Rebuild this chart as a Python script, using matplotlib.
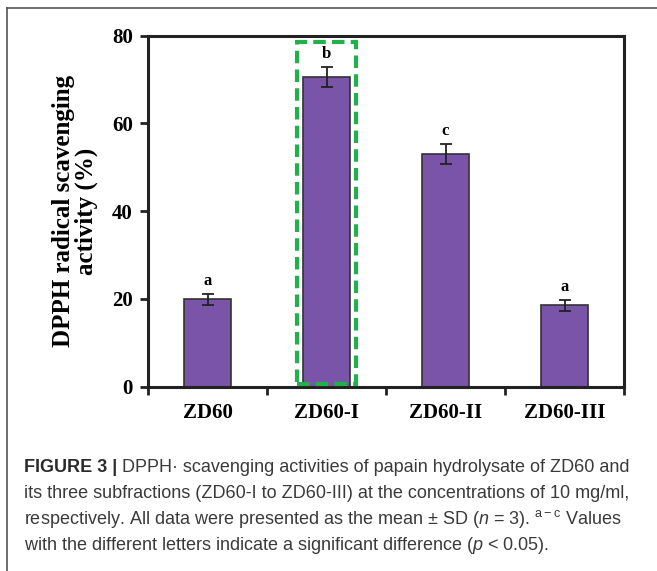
import matplotlib
matplotlib.use("Agg")
import matplotlib.pyplot as plt
from matplotlib.patches import Rectangle
from matplotlib.lines import Line2D

# data
samples = ["ZD60", "ZD60-I", "ZD60-II", "ZD60-III"]
activity = [19.9, 70.6, 53.0, 18.5]
sd = [1.2, 2.3, 2.2, 1.3]
letters = ["a", "b", "c", "a"]
yticks = [0, 20, 40, 60, 80]

plt.rcParams["mathtext.fontset"] = "custom"
plt.rcParams["mathtext.rm"] = "Liberation Sans"
plt.rcParams["mathtext.it"] = "Liberation Sans:italic"

fig = plt.figure(figsize=(6.57, 5.71), dpi=100)
ax = fig.add_axes([0.2253, 0.3228, 0.7245, 0.6149])

serif = "Liberation Serif"
x = range(len(samples))
ax.bar(x, activity, width=0.4, color="#7a54a9", edgecolor="#333333", linewidth=1.2, zorder=2)
ax.errorbar(x, activity, yerr=sd, fmt="none", ecolor="#222222", elinewidth=1.3,
            capsize=4, capthick=1.3, zorder=3)
for i, (v, e, l) in enumerate(zip(activity, sd, letters)):
    ax.text(i, v + e + 2.1, l, ha="center", va="baseline", family=serif,
            fontweight="bold", fontsize=12)

# highlight box round the strongest fraction
best = activity.index(max(activity))
ax.add_patch(Rectangle((best - 0.245, 0.7), 0.49, 77.9, fill=False, edgecolor="#21b14b",
                       linewidth=3, linestyle=(0, (3, 1.5)), zorder=4, clip_on=False))

ax.set_xlim(-0.5, len(samples) - 0.5)
ax.set_ylim(0, 80)
ax.set_yticks(yticks)
ax.set_yticklabels([str(t) for t in yticks], family=serif, fontweight="bold", fontsize=15)
ax.set_xticks(list(x))
ax.set_xticklabels(samples, family=serif, fontweight="bold", fontsize=15)
ax.set_xticks([i - 0.5 for i in range(len(samples) + 1)], minor=True)
ax.tick_params(axis="x", which="major", length=0, pad=12)
ax.tick_params(axis="x", which="minor", direction="out", length=6, width=2, color="#222222")
ax.tick_params(axis="y", direction="out", length=6, width=2, color="#222222", pad=5)
for s in ax.spines.values():
    s.set_linewidth(2.2)
    s.set_color("#222222")
ax.set_ylabel("DPPH radical scavenging\nactivity (%)", family=serif, fontweight="bold",
              fontsize=18, linespacing=0.95, labelpad=10)

# outer frame of the figure panel
fig.add_artist(Line2D([7 / 657, 7 / 657], [0, 1 - 8 / 571], color="#555555", linewidth=1.2))
fig.add_artist(Line2D([7 / 657, 1], [1 - 8 / 571, 1 - 8 / 571], color="#555555", linewidth=1.2))

# caption
cap_kw = dict(family="Liberation Sans", fontsize=13, color="#3a3a3a")
head = fig.text(24 / 657, 1 - 472 / 571, "FIGURE 3 |", fontweight="bold", va="baseline",
                family="Liberation Sans", fontsize=13, color="#2b2b2b")
ax.annotate(" DPPH\u00b7 scavenging activities of papain hydrolysate of ZD60 and",
            xy=(1, 0), xycoords=head, va="bottom", ha="left", **cap_kw)
rest = [
    "its three subfractions (ZD60-I to ZD60-III) at the concentrations of 10 mg/ml,",
    r"respectively. All data were presented as the mean $\pm$ SD ($n$ = 3). $^{\mathrm{a-c}}$ Values",
    r"with the different letters indicate a significant difference ($p$ < 0.05).",
]
for k, line in enumerate(rest):
    fig.text(24 / 657, 1 - (498 + 26 * k) / 571, line, va="baseline", **cap_kw)

fig.savefig("out.png", dpi=100)
